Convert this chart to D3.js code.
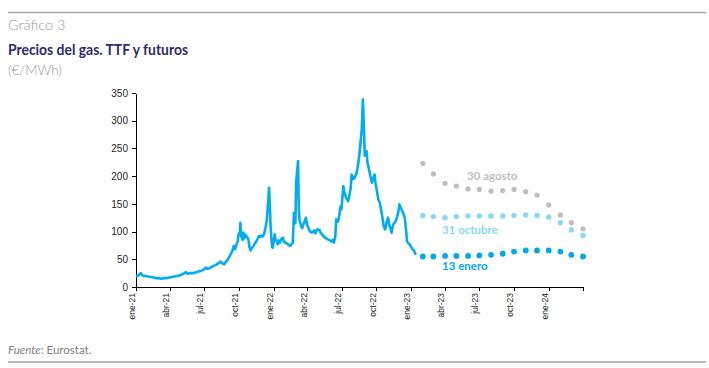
<!DOCTYPE html>
<html>
<head>
<meta charset="utf-8">
<script src="https://cdn.jsdelivr.net/npm/d3@7"></script>
<style>
  body { margin: 0; background: #fff; }
  svg { display: block; }
  .axis text { font-family: "Liberation Sans", Arial, sans-serif; fill: #262626; }
  .axis path, .axis line { stroke: #000; shape-rendering: crispEdges; }
</style>
</head>
<body>
<script>
// TTF spot price, EUR/MWh
var ttfDates = [
  '2021-01-01','2021-01-05','2021-01-08','2021-01-12','2021-01-14','2021-01-18','2021-01-22','2021-01-27',
  '2021-02-02','2021-02-09','2021-02-16','2021-02-23','2021-03-02','2021-03-09','2021-03-16','2021-03-23',
  '2021-03-30','2021-04-06','2021-04-13','2021-04-20','2021-04-27','2021-05-04','2021-05-10','2021-05-13',
  '2021-05-18','2021-05-25','2021-06-01','2021-06-08','2021-06-15','2021-06-22','2021-06-29','2021-07-05',
  '2021-07-09','2021-07-15','2021-07-22','2021-07-29','2021-08-04','2021-08-10','2021-08-13','2021-08-18',
  '2021-08-23','2021-08-27','2021-09-01','2021-09-06','2021-09-10','2021-09-14','2021-09-17','2021-09-21',
  '2021-09-24','2021-09-28','2021-09-30','2021-10-04','2021-10-05','2021-10-07','2021-10-11','2021-10-13',
  '2021-10-15','2021-10-19','2021-10-22','2021-10-26','2021-10-29','2021-11-01','2021-11-04','2021-11-09',
  '2021-11-12','2021-11-16','2021-11-19','2021-11-23','2021-11-26','2021-11-30','2021-12-03','2021-12-07',
  '2021-12-10','2021-12-14','2021-12-16','2021-12-20','2021-12-22','2021-12-24','2021-12-28','2021-12-30',
  '2022-01-04','2022-01-06','2022-01-10','2022-01-12','2022-01-14','2022-01-18','2022-01-21','2022-01-26',
  '2022-01-28','2022-02-02','2022-02-07','2022-02-10','2022-02-14','2022-02-17','2022-02-21','2022-02-24',
  '2022-02-28','2022-03-02','2022-03-07','2022-03-09','2022-03-11','2022-03-15','2022-03-18','2022-03-22',
  '2022-03-25','2022-03-28','2022-03-31','2022-04-05','2022-04-08','2022-04-13','2022-04-19','2022-04-22',
  '2022-04-27','2022-05-03','2022-05-06','2022-05-11','2022-05-16','2022-05-20','2022-05-25','2022-05-31',
  '2022-06-03','2022-06-08','2022-06-10','2022-06-14','2022-06-16','2022-06-21','2022-06-24','2022-06-28',
  '2022-06-30','2022-07-05','2022-07-08','2022-07-13','2022-07-18','2022-07-21','2022-07-25','2022-07-27',
  '2022-08-01','2022-08-04','2022-08-09','2022-08-12','2022-08-16','2022-08-19','2022-08-23','2022-08-26',
  '2022-08-29','2022-08-31','2022-09-05','2022-09-07','2022-09-12','2022-09-15','2022-09-19','2022-09-22',
  '2022-09-26','2022-09-28','2022-10-03','2022-10-06','2022-10-10','2022-10-13','2022-10-17','2022-10-20',
  '2022-10-24','2022-10-26','2022-10-28','2022-11-01','2022-11-04','2022-11-08','2022-11-10','2022-11-14',
  '2022-11-17','2022-11-21','2022-11-24','2022-11-28','2022-12-01','2022-12-05','2022-12-08','2022-12-12',
  '2022-12-15','2022-12-19','2022-12-21','2022-12-23','2022-12-28','2023-01-02','2023-01-05','2023-01-09',
  '2023-01-11','2023-01-13'
];
var ttfValues = [
  19,20,21,24,25,21,20,20,
  19,18,17,16,16,15,16,16,
  17,18,19,20,21,23,25,27,
  24,25,25,26,28,29,31,35,
  33,34,37,39,41,44,46,43,
  41,45,49,55,60,66,74,68,
  76,82,95,100,116,92,85,98,
  88,94,90,87,72,66,70,74,
  78,82,86,92,90,93,91,96,
  105,120,138,179,150,110,72,71,
  95,85,82,77,84,80,86,89,
  82,80,78,76,74,77,80,134,
  115,190,227,140,120,110,106,115,
  120,125,112,104,100,98,102,97,
  104,103,98,94,90,88,86,84,
  82,85,80,92,122,118,128,146,
  140,182,170,160,155,165,180,203,
  195,197,205,215,235,255,285,338,
  280,237,245,225,210,200,188,196,
  203,190,170,158,152,140,125,110,
  104,108,118,125,112,104,98,112,
  115,119,125,135,149,142,138,131,
  125,100,83,80,77,71,68,65,
  62,58
];

// futures curves, monthly delivery
var futMonths = ['2023-02','2023-03','2023-04','2023-05','2023-06','2023-07','2023-08','2023-09',
  '2023-10','2023-11','2023-12','2024-01','2024-02','2024-03','2024-04'];
var fut30Ago = [223,204,187,182,177,176,173,174,176,172,166,148,130,116,105];
var fut31Oct = [129,127,125,127,128,128,128,128,129,130,129,126,116,103,93];
var fut13Ene = [55,55,56,56,56,57,58,60,64,66,66,66,64,58,55];

var seriesNames = ['30 agosto', '31 octubre', '13 enero'];
var xTickLabels = ['ene-21','abr-21','jul-21','oct-21','ene-22','abr-22','jul-22','oct-22',
  'ene-23','abr-23','jul-23','oct-23','ene-24',''];
var yTicks = [0, 50, 100, 150, 200, 250, 300, 350];

var W = 709, H = 368;
var margin = { top: 93, right: 126, bottom: 81, left: 136 };
var width = W - margin.left - margin.right;
var height = H - margin.top - margin.bottom;

var parseDay = d3.timeParse('%Y-%m-%d');
var parseMonth = d3.timeParse('%Y-%m');

var svg = d3.select('body').append('svg')
  .attr('width', W)
  .attr('height', H);

// rules top and bottom
svg.append('line').attr('x1', 8).attr('x2', 706).attr('y1', 12.5).attr('y2', 12.5)
  .attr('stroke', '#a6a6a6').attr('stroke-width', 1.5);
svg.append('line').attr('x1', 8).attr('x2', 706).attr('y1', 362).attr('y2', 362)
  .attr('stroke', '#a6a6a6').attr('stroke-width', 1.5);

svg.append('text').attr('x', 8).attr('y', 30)
  .style('font-family', 'Lato, sans-serif').style('font-size', '14.5px').style('font-weight', 300)
  .attr('fill', '#9b9b9b').text('Gráfico 3');
svg.append('text').attr('x', 8).attr('y', 55)
  .attr('textLength', 180).attr('lengthAdjust', 'spacingAndGlyphs')
  .style('font-family', 'Lato, sans-serif').style('font-size', '16px').style('font-weight', 'bold')
  .attr('fill', '#2f2a6e').text('Precios del gas. TTF y futuros');
svg.append('text').attr('x', 8).attr('y', 75)
  .style('font-family', 'Lato, sans-serif').style('font-size', '13.5px').style('font-weight', 300)
  .attr('fill', '#9b9b9b').text('(€/MWh)');

var src = svg.append('text').attr('x', 8).attr('y', 354)
  .style('font-family', 'Lato, sans-serif').style('font-size', '11.5px').attr('fill', '#7f7f7f');
src.append('tspan').style('font-style', 'italic').text('Fuente');
src.append('tspan').text(': Eurostat.');

var g = svg.append('g')
  .attr('transform', 'translate(' + margin.left + ',' + margin.top + ')');

var x = d3.scaleTime()
  .domain([new Date(2021, 0, 1), new Date(2024, 3, 1)])
  .range([0, width]);
var y = d3.scaleLinear()
  .domain([0, 350])
  .range([height, 0]);

var xTicks = d3.timeMonth.every(3).range(new Date(2021, 0, 1), new Date(2024, 3, 2));

var xAxis = d3.axisBottom(x)
  .tickValues(xTicks)
  .tickSize(4)
  .tickSizeOuter(0)
  .tickFormat(function (d, i) { return xTickLabels[i]; });
var yAxis = d3.axisLeft(y)
  .tickValues(yTicks)
  .tickSize(4)
  .tickSizeOuter(0);

var gx = g.append('g').attr('class', 'x axis')
  .attr('transform', 'translate(0,' + height + ')')
  .call(xAxis);
gx.selectAll('text')
  .style('font-size', '8.5px')
  .attr('transform', 'rotate(-90)')
  .attr('x', -6)
  .attr('y', -4)
  .attr('dy', '0.3em')
  .style('text-anchor', 'end');

var gy = g.append('g').attr('class', 'y axis').call(yAxis);
gy.selectAll('text').style('font-size', '10px').attr('x', -8);

// TTF line
var ttf = ttfDates.map(function (d, i) { return { date: parseDay(d), value: ttfValues[i] }; });
var line = d3.line()
  .x(function (d) { return x(d.date); })
  .y(function (d) { return y(d.value); });

g.append('path')
  .datum(ttf)
  .attr('fill', 'none')
  .attr('stroke', '#00aeef')
  .attr('stroke-width', 2.6)
  .attr('stroke-linejoin', 'round')
  .attr('d', line);

// futures dots
var futures = [
  { name: seriesNames[0], values: fut30Ago, color: '#bfbfbf', r: 2.6, lx: 467, ly: 180 },
  { name: seriesNames[1], values: fut31Oct, color: '#8ad8f8', r: 2.7, lx: 442, ly: 234 },
  { name: seriesNames[2], values: fut13Ene, color: '#00a9ec', r: 2.9, lx: 442, ly: 270 }
];

futures.forEach(function (s) {
  g.selectAll(null)
    .data(s.values)
    .enter().append('circle')
    .attr('cx', function (d, i) { return x(parseMonth(futMonths[i])); })
    .attr('cy', function (d) { return y(d); })
    .attr('r', s.r)
    .attr('fill', s.color);

  svg.append('text')
    .attr('x', s.lx)
    .attr('y', s.ly)
    .style('font-family', 'Lato, sans-serif')
    .style('font-size', '11.5px')
    .style('font-weight', 'bold')
    .attr('fill', s.color)
    .text(s.name);
});
</script>
</body>
</html>
